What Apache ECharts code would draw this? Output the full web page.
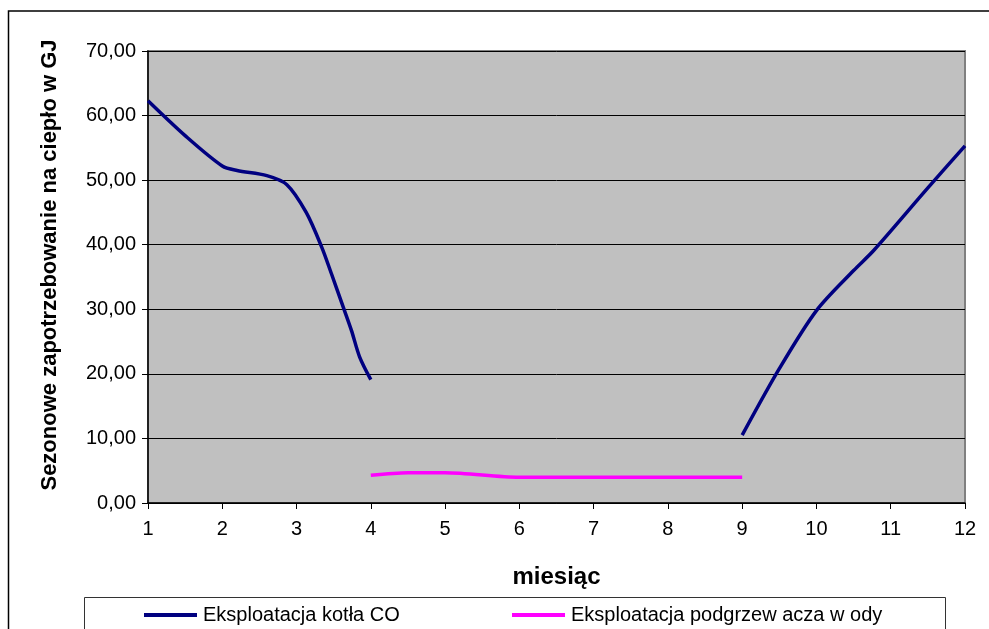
<!DOCTYPE html>
<html>
<head>
<meta charset="utf-8">
<script src="https://cdn.jsdelivr.net/npm/echarts@6/dist/echarts.min.js"></script>
<style>
html,body{margin:0;padding:0;background:#fff;}
#chart{width:989px;height:629px;}
</style>
</head>
<body>
<div id="chart"></div>
<script>
// Data
const seriesNames = ['Eksploatacja kotła CO', 'Eksploatacja podgrzew acza w ody'];
const kotlaSpringMonths = [1, 1.5, 2, 2.2, 2.6, 2.87, 3.13, 3.34, 3.47, 3.63, 3.74, 3.85, 4];
const kotlaSpringValues = [62.3, 56.9, 52.2, 51.5, 50.7, 49.3, 45.0, 39.6, 35.5, 30.3, 26.7, 22.6, 19.1];
const kotlaAutumnMonths = [9, 9.5, 10, 10.5, 10.77, 11.5, 12];
const kotlaAutumnValues = [10.5, 20.8, 29.8, 36.0, 39.1, 48.8, 55.3];
const wodyMonths = [4, 4.5, 5, 6, 7, 8, 9];
const wodyValues = [4.3, 4.7, 4.7, 4.0, 4.0, 4.0, 4.0];
const xTicks = [1, 2, 3, 4, 5, 6, 7, 8, 9, 10, 11, 12];
const yTicks = [0, 10, 20, 30, 40, 50, 60, 70];
const xTitle = 'miesiąc';
const yTitle = 'Sezonowe zapotrzebowanie na ciepło w GJ';

const zip = (xs, ys) => xs.map((x, i) => [x, ys[i]]);
const FONT = '"Liberation Sans", Arial, sans-serif';

const chart = echarts.init(document.getElementById('chart'), null, {renderer: 'canvas'});
const lineCommon = {
  type: 'line', smooth: 0.3, showSymbol: false, symbol: 'none',
  lineStyle: {width: 3.5}, animation: false
};
const legendCommon = {
  icon: 'rect', itemWidth: 53, itemHeight: 4, itemGap: 0, top: 600,
  textStyle: {fontFamily: FONT, fontSize: 20, color: '#000', padding: [0, 0, 0, 1]}
};
chart.setOption({
  animation: false,
  textStyle: {fontFamily: FONT},
  grid: {
    left: 148, right: 24, top: 51, bottom: 126,
    show: true, backgroundColor: '#C0C0C0', borderColor: '#808080', borderWidth: 2
  },
  xAxis: {
    type: 'value', min: xTicks[0], max: xTicks[xTicks.length - 1], interval: 1,
    name: xTitle, nameLocation: 'middle', nameGap: 62,
    nameTextStyle: {fontFamily: FONT, fontSize: 24, fontWeight: 'bold', color: '#000'},
    axisLine: {show: true, onZero: false, lineStyle: {color: '#000', width: 1.5}},
    axisTick: {show: true, inside: false, length: 6, lineStyle: {color: '#000'}},
    axisLabel: {fontFamily: FONT, fontSize: 20, color: '#000', margin: 16},
    splitLine: {show: false}
  },
  yAxis: {
    type: 'value', min: yTicks[0], max: yTicks[yTicks.length - 1], interval: 10,
    axisLine: {show: true, lineStyle: {color: '#000', width: 1.5}},
    axisTick: {show: true, inside: false, length: 6, lineStyle: {color: '#000'}},
    axisLabel: {fontFamily: FONT, fontSize: 20, color: '#000', margin: 12,
      formatter: v => v.toFixed(2).replace('.', ',')},
    splitLine: {show: true, lineStyle: {color: '#000', width: 1}}
  },
  legend: [
    Object.assign({}, legendCommon, {data: [seriesNames[0]], left: 139}),
    Object.assign({}, legendCommon, {data: [seriesNames[1]], left: 507})
  ],
  graphic: [
    {type: 'rect', silent: true, shape: {x: 8.5, y: 11, width: 1000, height: 700},
      style: {fill: 'none', stroke: '#000', lineWidth: 1.5}, z: -10},
    {type: 'rect', silent: true, shape: {x: 84.5, y: 597.5, width: 861, height: 60},
      style: {fill: 'none', stroke: '#333', lineWidth: 1}, z: -10},
    {type: 'text', silent: true, x: 50, y: 265, rotation: Math.PI / 2,
      style: {text: yTitle, fontFamily: FONT, fontSize: 22, fontWeight: 'bold', fill: '#000',
        align: 'center', verticalAlign: 'middle'}}
  ],
  series: [
    Object.assign({}, lineCommon, {name: seriesNames[0], data: zip(kotlaSpringMonths, kotlaSpringValues),
      itemStyle: {color: '#000080'}, lineStyle: {width: 3.5, color: '#000080'}}),
    Object.assign({}, lineCommon, {name: seriesNames[0], data: zip(kotlaAutumnMonths, kotlaAutumnValues),
      itemStyle: {color: '#000080'}, lineStyle: {width: 3.5, color: '#000080'}}),
    Object.assign({}, lineCommon, {name: seriesNames[1], data: zip(wodyMonths, wodyValues),
      itemStyle: {color: '#FF00FF'}, lineStyle: {width: 3.5, color: '#FF00FF'}})
  ]
});
</script>
</body>
</html>
